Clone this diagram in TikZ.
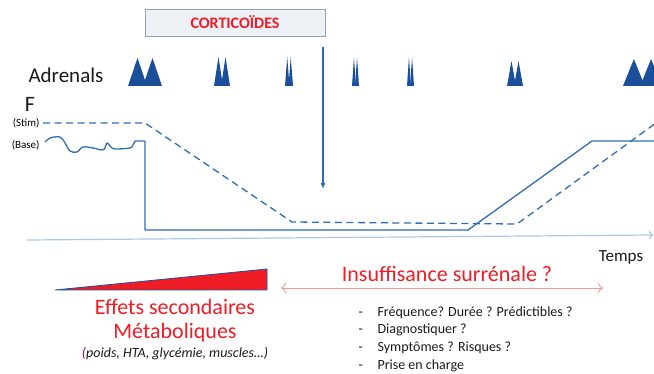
\documentclass[tikz,border=0pt]{standalone}
\usepackage{fontspec}
\setmainfont{Carlito}
\usetikzlibrary{positioning,arrows.meta}

\definecolor{curveblue}{HTML}{2E6DB4}
\definecolor{peakblue}{HTML}{1B4F9C}
\definecolor{axisblue}{HTML}{A9C9EA}
\definecolor{alertred}{HTML}{EE1C25}
\definecolor{softred}{HTML}{F29A9A}
\definecolor{boxfill}{HTML}{EDF1F6}
\definecolor{boxline}{HTML}{8DA3BC}
\definecolor{textdark}{HTML}{1A1A1A}

\tikzset{
  curve/.style={draw=curveblue,line width=1.3pt},
  stimcurve/.style={curve,dash pattern=on 7pt off 4.5pt},
  peak/.style={fill=peakblue,draw=none},
  bigred/.style={text=alertred,font=\fontsize{22}{26}\selectfont},
  question/.style={anchor=west,text=textdark,inner ysep=1pt,
    text height=10pt,text depth=3.5pt,font=\fontsize{14}{16}\selectfont}
}

\begin{document}
\begin{tikzpicture}[x=1pt,y=-1pt]
  \useasboundingbox (0,0) rectangle (654,374);

  % Treatment box and the dose arrow.
  \node (cortico) [draw=boxline,fill=boxfill,line width=0.8pt,
    minimum width=180pt,minimum height=27pt,text=alertred,
    font=\bfseries\fontsize{16}{19}\selectfont] at (235,22.5) {CORTICOÏDES};
  \coordinate (dosetop) at (323,47);
  \coordinate (dosebot) at (323,189);
  \draw[curveblue,line width=1.1pt,-{Latex[length=6pt,width=5pt]}] (dosetop) -- (dosebot);

  % Adrenal pulses.
  \node (adrenals) [anchor=west,text=textdark,font=\fontsize{21}{25}\selectfont] at (25,75) {Adrenals};
  \foreach \l/\r/\t in {128/162/58, 214/230/57, 285/293/57, 352/359/57,
                        407/414/57, 507/523/61, 623/662/59}{
    \pgfmathsetmacro{\w}{(\r-\l)*0.56}
    \fill[peak] (\l,86) -- ({\l+\w/2},\t) -- ({\l+\w},86) -- cycle;
    \fill[peak] ({\r-\w},86) -- ({\r-\w/2},\t) -- (\r,86) -- cycle;
  }

  % Cortisol levels.
  \node (cortisol) [text=textdark,font=\fontsize{22}{26}\selectfont] at (30,104.5) {F};
  \node (stim) [anchor=east,font=\fontsize{11}{13}\selectfont] at (43,123) {(Stim)};
  \node (base) [anchor=east,font=\fontsize{11}{13}\selectfont] at (43,145) {(Base)};
  \draw[stimcurve] (stim.east) -- (145,123) -- (292,222) -- (517,224) -- (656,123);
  \draw[curve,line join=round] plot[smooth,tension=0.55] coordinates {
      (45,142) (50,138) (60,137) (65,143) (70,151) (77,152) (83,147)
      (93,148) (102,150) (105,148) (107,143) (111,147) (115,149)
      (130,148) (133,145) (135,141)}
    -- (145,141) -- (145,230) -- (468,230) -- (592,141) -- (656,141);

  % Time axis.
  \coordinate (t0) at (27,240);
  \coordinate (t1) at (653,235);
  \draw[axisblue,line width=1.2pt,-{To[length=4pt]}] (t0) -- (t1);
  \node (temps) [text=textdark,font=\fontsize{17}{20}\selectfont] at (621,257) {Temps};

  % Adrenal insufficiency window.
  \node (insuff) [bigred] at (447,274) {Insuffisance surrénale ?};
  \coordinate (win0) at (281,288);
  \coordinate (win1) at (603,288);
  \draw[softred,line width=0.9pt,{To[length=5pt]}-{To[length=5pt]}] (win0) -- (win1);

  \node (q1) [question] at (355,313) {\makebox[19pt][l]{-}Fréquence? Durée ? Prédictibles ?};
  \node (q2) [question,below=1.8pt of q1.south west,anchor=north west] {\makebox[19pt][l]{-}Diagnostiquer ?};
  \node (q3) [question,below=1.8pt of q2.south west,anchor=north west] {\makebox[19pt][l]{-}Symptômes ? Risques ?};
  \node (q4) [question,below=1.8pt of q3.south west,anchor=north west] {\makebox[19pt][l]{-}Prise en charge};

  % Side effects.
  \draw[fill=alertred,draw=peakblue,line width=0.8pt,line join=miter] (55,290) -- (267,269) -- (267,290) -- cycle;
  \node (effets) [bigred] at (175,307) {Effets secondaires};
  \node (metab) [bigred] at (175,333) {Métaboliques};
  \node (exemples) [text=textdark,font=\itshape\fontsize{14}{16}\selectfont] at (175,354)
    {\textcolor{violet}{(}poids, HTA, glycémie, muscles…)};
\end{tikzpicture}
\end{document}
